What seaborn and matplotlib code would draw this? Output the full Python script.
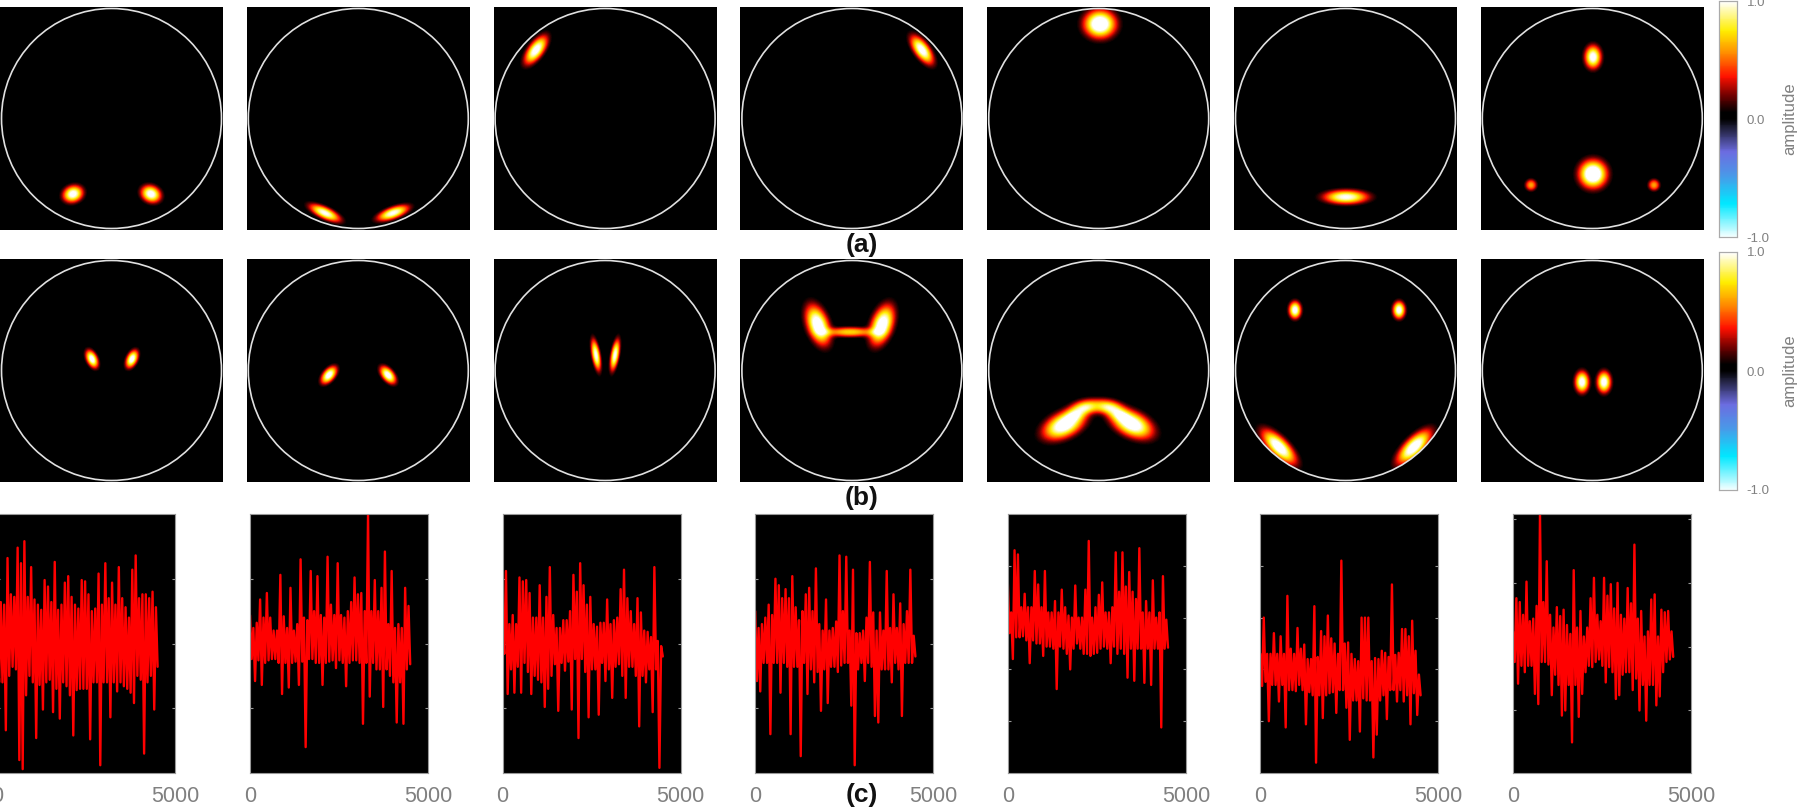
import numpy as np
import matplotlib
matplotlib.use('Agg')
import matplotlib.pyplot as plt
from matplotlib.colors import LinearSegmentedColormap
from matplotlib.patches import Circle
import seaborn as sns

FIG_W, FIG_H = 1800, 809
GREY = '#808080'

# scalp maps: blobs, one tuple per blob
# (x px, y px inside the 223 px panel, long radius, short radius, tilt deg, peak)
# the cells themselves are too many to type, so they are rendered from these readings
maps_a = [
    [(73, 187, 12.5, 10, 20, 1.05), (151, 187, 12.5, 10, -25, 1.05)],
    [(78, 206, 20, 7, -25, 1.0), (146, 206, 20, 7, 20, 1.0)],
    [(42, 43, 20, 9, 54, 1.05)],
    [(182, 43, 20, 9, -54, 1.05)],
    [(113, 17, 19.5, 17, 0, 1.2)],
    [(112, 190, 27, 8.5, 0, 1.0)],
    [(112, 50, 14, 10, 90, 1.05), (112, 167, 17, 17, 0, 1.25),
     (50, 178, 7, 7, 0, 0.6), (173, 178, 7, 7, 0, 0.6)],
]

maps_b = [
    [(92, 100, 11.5, 6.5, -65, 1.05), (132, 100, 11.5, 6.5, 65, 1.05)],
    [(82, 116, 12.5, 7, 50, 1.05), (141, 116, 12.5, 7, -50, 1.05)],
    [(102, 96, 19, 5, -80, 1.0), (121, 96, 19, 5, 80, 1.0)],
    [(78, 66, 25, 13, -70, 1.12), (142, 66, 25, 13, 70, 1.12), (110, 73, 30, 6, 0, 0.7)],
    [(77, 166, 27, 15, 25, 1.12), (145, 165, 27, 15, -25, 1.12),
     (110, 147, 24, 9, 0, 0.62), (92, 152, 18, 10, 25, 0.55), (128, 152, 18, 10, -25, 0.55)],
    [(61, 51, 10.5, 7.5, 90, 1.05), (165, 51, 10.5, 7.5, 90, 1.05),
     (45, 188, 27, 11, -45, 1.1), (180, 188, 27, 11, 45, 1.1)],
    [(101, 123, 13, 8.5, 90, 1.05), (123, 123, 13, 8.5, 90, 1.05)],
]

# time courses (c): upper and lower ends of the trace, read left to right every ~94 samples
tops_1 = [3, 3.2, 3, 6.6, 3.8, 3.6, 7.4, 6.2, 7.9, 3.6, 5.9, 3.4, 3, 2.6, 4.9, 4.4, 3.2, 6.3, 2.6, 3, 4.7, 5.2, 3.6, 3,
          2.7, 4.9, 4.8, 3.8, 2.5, 2.7, 5.4, 3, 6.2, 3.5, 4.7, 3, 5.9, 3.5, 2.8, 2, 5.7, 6.8, 3.5, 3.8, 3.8, 3.5, 4, 2.8]
bots_1 = [-3, -3, -6.7, -2.5, -1.8, -2, -9, -9.7, -4, -2.5, -3, -7.3, -3.2, -5.1, -3, -2.8, -5.3, -3.5, -5.8, -3, -3.3, -4, -7.1, -3.6,
          -3.5, -3.5, -3.5, -7.4, -3, -3, -9.4, -3, -3, -5.7, -3, -3.7, -3, -3.3, -3.5, -3.8, -4.6, -2.5, -2.8, -8.5, -3, -2.5, -5.1, -1.8]
tops_2 = [2.2, 1.2, 1.6, 3.4, 2, 3.9, 2, 1, 1, 5.3, 2.1, 1.2, 4.3, 1, 1.5, 6.5, 2, 1.8, 5.6, 2.5, 5.2, 2.2, 2, 6.7,
          3, 2.2, 6.2, 2.2, 2, 2.5, 3.2, 5.1, 3.8, 3.9, 2.5, 10, 2.5, 4.9, 2.5, 4.3, 7.1, 1.5, 5.6, 1.2, 1.5, 1.2, 4.3, 2.9]
bots_2 = [-1.2, -2.9, -1.3, -3.2, -1.5, -1.3, -1.2, -1.2, -1.5, -3.9, -1.5, -3.4, -1.5, -1.4, -3.2, -1.4, -8, -1.2, -1.2, -1.5, -1.5, -3.2, -1.5, -1.4,
          -1.3, -1.9, -1.3, -1.5, -3.3, -1.5, -1.3, -1.3, -1.5, -6.2, -1.5, -4.1, -1.5, -2, -2, -4.9, -2, -2.5, -3, -6.1, -3, -6.2, -2, -1.6]
tops_3 = [1, 5.6, 1.5, 2.2, 1.5, 5.1, 4.8, 4.9, 3.9, 2, 2, 4.5, 2, 3.6, 5.9, 2.2, 1.2, 1.2, 1.8, 1.8, 2.5, 5.3, 4, 6.2,
          4.5, 3, 3.6, 1.5, 1.3, 1.6, 1.6, 3.4, 1.5, 1.8, 2, 4.2, 5.7, 3.5, 2.5, 1.5, 3.5, 2.4, 1, 0.9, 0.5, 5.9, 0.2, -0.2]
bots_3 = [-0.8, -3.9, -2, -3.8, -1.8, -3.8, -1.5, -2.2, -3.9, -2.5, -2.8, -3, -4.9, -3.5, -2.5, -1.6, -5.2, -1.5, -2.1, -1.4, -5.1, -1.2, -7.3, -1.2,
          -2.2, -5.7, -2, -2, -5.5, -1.5, -2.9, -2, -4.2, -1.8, -1.6, -2.5, -4.2, -1.8, -1.8, -2.5, -6.4, -2.5, -3, -2, -5.3, -2, -9.6, -1]
tops_4 = [2.5, 1.2, 1.5, 2, 3, 2.2, 5, 4.5, 3.5, 4.2, 3.5, 5.2, 2.8, 1.8, 2.5, 3.8, 4.3, 2.5, 5.8, 1.5, 1, 3.4, 1, 1.2,
          1.7, 6.8, 2.5, 6.7, 1, 5.7, 0.8, 0.8, 1, 2, 6.3, 2.4, 1, 2.4, 1, 5.6, 1.2, 3.8, 1.2, 3.1, 1.5, 2.5, 5.7, 0.6]
bots_4 = [-2.9, -3.7, -1.5, -1.5, -7, -1.5, -1.5, -3.8, -1.5, -1.8, -7, -1.8, -1.8, -8.7, -1.5, -3.9, -2, -3, -2.2, -5.2, -2, -4.6, -1.8, -1.8,
          -2.2, -1.7, -1.5, -1.5, -4.8, -9.4, -2, -1.5, -2.9, -1.5, -1.8, -5.6, -6.1, -2, -2, -2, -3, -1.5, -2, -5.6, -1.5, -1.5, -1.5, -1]
tops_5 = [8.4, 5.5, 11.5, 11.1, 6, 7.3, 6, 6, 9.5, 8.2, 6, 9.5, 5.5, 5.5, 6.6, 5.5, 7.7, 6, 5.2, 5, 8.1, 5, 5, 7.7,
          12.4, 5, 6, 7.2, 8.4, 5.5, 5.5, 6, 11.3, 7.5, 11.3, 8, 9.4, 7.5, 6.8, 11.7, 5.5, 6.6, 5.5, 8.6, 5, 5.5, 9, 4.8]
bots_5 = [3.5, 1, 3.1, 3.1, 3.2, 2.8, 0.6, 2.8, 2.5, 2.5, 1.3, 2.2, 2.2, 2, -1.9, 2.2, 2, 1.5, 0, 2, 2.5, 2, 1.5, 1.5,
          1.3, 1.5, 1.6, 2, 2.2, 2, 0.6, 2.2, 1.5, 2, 1.5, -0.8, 2, -1.1, 2, 2, -1.3, 2, -1.5, 2, 2, -5.6, 2, 2.1]
tops_6 = [1.5, 5, 1.5, 1.5, 3.5, 1.5, 3.2, 1.5, 7.1, 2, 1.5, 4, 2, 2.4, 1, 1, 6.1, 1.2, 3.7, 3.2, 5.2, 3, 2.5, 1.5,
          10.5, 2.5, 2.6, 1.5, 1, 0.8, 5, 5, 5, 0.8, 1.1, 1, 1.8, 1.6, 1.2, 8.2, 1.4, 1.6, 3.9, 3.9, 3.2, 4.7, 1.8, -0.5]
bots_6 = [-1.6, -1.2, -5, -1.5, -1.5, -3.1, -1.5, -5.6, -2, -2, -2.1, -1.5, -2, -5.3, -2.2, -2.5, -9, -2.5, -4.7, -2.5, -2.3, -2.2, -4.2, -2,
          -2, -3.7, -6.8, -3, -3, -6, -2.8, -3, -3, -8.5, -6.3, -3, -2.5, -4.8, -2, -2, -3.1, -2, -3.1, -2.5, -5.3, -2.3, -4.4, -2.5]
tops_7 = [1.2, 3.8, 3.5, 2.5, 5.1, 2, 2.2, 3.2, 10.4, 3.5, 6.7, 2.5, 1.5, 3.1, 2.4, 2.9, 1.7, 1, 6, 1.5, 2.8, 0.8, 1.5, 3.8,
          5.4, 2.5, 2, 5.4, 4, 4.9, 3, 5, 2.5, 2.2, 4.6, 3.4, 8, 2.2, 2.8, 0.8, 1.2, 3.7, 4.1, 0.8, 2.9, 2.7, 2.8, 1.2]
bots_7 = [-1.2, -2.9, -1.5, -2, -1.5, -1.5, -3.7, -4.5, -1.2, -1.2, -1.4, -3.8, -2.2, -3, -5.4, -5, -3, -7.5, -3, -5.5, -3.7, -2, -1.5, -1.6,
          -1.2, -1, -1.5, -2.8, -1.6, -2, -4.1, -3.8, -2.2, -2, -2, -3.4, -2.5, -5, -3, -5.8, -3, -3, -4.6, -3.9, -2, -1.2, -1, -0.8]

tops = [tops_1, tops_2, tops_3, tops_4, tops_5, tops_6, tops_7]
bots = [bots_1, bots_2, bots_3, bots_4, bots_5, bots_6, bots_7]
trace_end = 4500
y_limits = [(-10, 10)] * 4 + [(-10, 15)] * 2 + [(-9.9, 10.4)]
y_ticks = [[-5, 0, 5]] * 4 + [[-5, 0, 5, 10]] * 3

panel_labels = ['(a)', '(b)', '(c)']
cbar_ticks = [-1.0, 0.0, 1.0]

amp_cmap = LinearSegmentedColormap.from_list('amp', [
    (0.00, '#f2ffff'), (0.14, '#00e8ff'), (0.26, '#4a98e8'), (0.36, '#6c6ce0'),
    (0.46, '#20203c'), (0.50, '#000000'), (0.53, '#000000'), (0.60, '#700000'),
    (0.68, '#ff1000'), (0.78, '#ff8c00'), (0.875, '#ffee00'), (1.00, '#ffffff')])


def px_axes(fig, x0, y0, x1, y1):
    """Axes from picture pixels, y counted from the top"""
    return fig.add_axes([x0 / FIG_W, 1 - y1 / FIG_H, (x1 - x0) / FIG_W, (y1 - y0) / FIG_H])


def render_map(blobs, size=223):
    yy, xx = np.mgrid[0:size, 0:size] + 0.5
    field = np.zeros((size, size))
    for cx, cy, r_long, r_short, tilt, peak in blobs:
        t = np.deg2rad(tilt)
        dx, dy = xx - cx, yy - cy
        u = dx * np.cos(t) - dy * np.sin(t)
        v = dx * np.sin(t) + dy * np.cos(t)
        # radii are the visible red rim of the blob, the rim is steep in the picture
        field += peak * np.exp(-1.9 * ((u / r_long) ** 2 + (v / r_short) ** 2) ** 1.2)
    # nothing shows outside the head circle
    field[np.hypot(xx - size / 2, yy - size / 2) > 110] = 0
    return field


def draw_map_row(fig, maps, top, cbar_box):
    for i, blobs in enumerate(maps):
        x0 = i * 246.8
        ax = px_axes(fig, x0, top, x0 + 223, top + 223)
        last = i == len(maps) - 1
        cax = px_axes(fig, *cbar_box) if last else None
        sns.heatmap(render_map(blobs), vmin=-1, vmax=1, cmap=amp_cmap, ax=ax, cbar=last, cbar_ax=cax,
                    xticklabels=False, yticklabels=False, rasterized=True)
        ax.add_patch(Circle((111.5, 111.5), 110, fill=False, ec='#e0e0e0', lw=1.2, clip_on=False))
        if last:
            cax.set_yticks(cbar_ticks)
            cax.set_yticklabels(['%.1f' % t for t in cbar_ticks], color=GREY, fontsize=9.5)
            cax.tick_params(length=0, pad=7)
            cax.set_ylabel('amplitude', color=GREY, fontsize=12, rotation=90, labelpad=9)
            for s in cax.spines.values():
                s.set_visible(True)
                s.set_color('#aaaaaa')
                s.set_linewidth(0.8)


def draw_trace_row(fig):
    for i in range(7):
        x0 = -2.6 + i * 252.6
        ax = px_axes(fig, x0, 514, x0 + 178, 773)
        ax.set_facecolor('black')
        # trace runs up and down between the two read envelopes
        y = np.ravel(np.column_stack([tops[i], bots[i]]))
        x = np.linspace(0, trace_end, len(y))
        sns.lineplot(x=x, y=y, sort=False, estimator=None, color='#ff0000', lw=1.7, ax=ax)
        ax.set_xlim(0, 5000)
        ax.set_ylim(*y_limits[i])
        ax.set_xticks([0, 5000])
        ax.set_xticklabels(['0', '5000'], color=GREY, fontsize=15.5)
        ax.set_yticks(y_ticks[i])
        ax.set_yticklabels([])
        ax.tick_params(axis='x', length=0, pad=9)
        ax.tick_params(axis='y', length=2, width=0.8, color='#999999', direction='in', left=True, right=True)
        for s in ax.spines.values():
            s.set_color('#999999')
            s.set_linewidth(0.8)


sns.set_theme(style='white')
plt.rcParams['font.family'] = ['Liberation Sans', 'DejaVu Sans']

fig = plt.figure(figsize=(FIG_W / 100, FIG_H / 100), dpi=100, facecolor='white')
draw_map_row(fig, maps_a, 7, (1719, 1, 1737, 237))
draw_map_row(fig, maps_b, 259, (1719, 252, 1737, 490))
draw_trace_row(fig)

for label, ypx in zip(panel_labels, [245, 498, 795]):
    fig.text(862 / FIG_W, 1 - ypx / FIG_H, label, ha='center', va='center', fontsize=19, fontweight='bold', color='#111111')

fig.savefig('out.png', dpi=100)
